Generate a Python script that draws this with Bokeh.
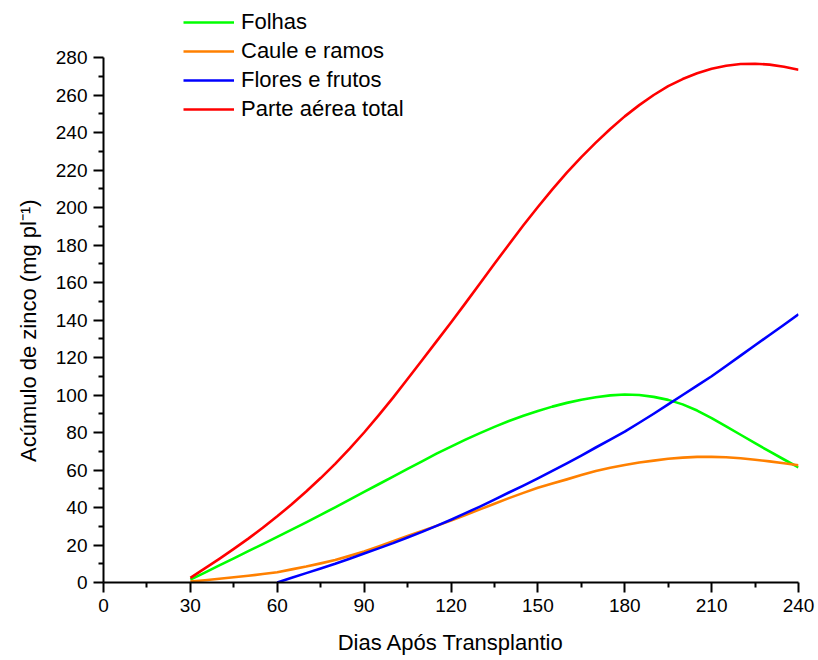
from bokeh.plotting import figure
from bokeh.models import Range1d, FixedTicker, Legend, LegendItem
from bokeh.embed import file_html
from bokeh.resources import INLINE

FONT = "Liberation Sans"

days = list(range(30, 241, 5))
days_flores = list(range(60, 241, 5))

folhas = [1.5, 5.3, 9.1, 12.9, 16.7, 20.5, 24.3, 28.2, 32.1, 36.1, 40.1, 44.2,
          48.3, 52.4, 56.5, 60.6, 64.6, 68.7, 72.5, 76.2, 79.7, 83, 86.1, 88.9,
          91.5, 93.8, 95.8, 97.5, 98.8, 99.8, 100.3, 100, 99, 97.4, 95, 91.7,
          87.7, 83.3, 78.8, 74.3, 69.9, 65.6, 61.4]
caule = [0.5, 1.2, 2, 2.8, 3.6, 4.5, 5.5, 7, 8.5, 10.2, 12, 14.2, 16.5, 19.2,
         22, 24.8, 27.5, 30.2, 33, 36, 39, 42, 45, 47.8, 50.5, 52.8, 55, 57.3,
         59.5, 61.2, 62.7, 64, 65, 66, 66.6, 67, 67, 66.8, 66.3, 65.5, 64.6,
         63.6, 62.5]
flores = [0, 2.5, 5, 7.5, 10, 12.7, 15.5, 18.2, 21, 24, 27, 30.2, 33.5, 37,
          40.5, 44.2, 48, 51.7, 55.5, 59.5, 63.5, 67.7, 72, 76.2, 80.5, 85.2,
          90, 95, 100, 105, 110, 115.5, 121, 126.5, 132, 137.5, 143]
total = [2.5, 7.5, 12.6, 17.9, 23.4, 29.2, 35.3, 41.7, 48.5, 55.7, 63.3, 71.4,
         80, 89.1, 98.6, 108.5, 118.5, 128.6, 138.7, 149, 159.5, 170, 180.3,
         190.5, 200.3, 209.7, 218.6, 226.9, 234.6, 241.9, 248.6, 254.6, 260,
         264.7, 268.5, 271.6, 274, 275.6, 276.5, 276.7, 276.2, 275.1, 273.5]

series_names = ["Folhas", "Caule e ramos", "Flores e frutos", "Parte aérea total"]
series_colors = ["#00ff00", "#ff8000", "#0000ff", "#ff0000"]

x_ticks = [0, 30, 60, 90, 120, 150, 180, 210, 240]
x_minor = [15, 45, 75, 105, 135, 165, 195, 225]
y_ticks = list(range(0, 281, 20))
y_minor = list(range(10, 280, 20))

# frame extends above the 280 tick so the legend can sit over the top margin;
# the axis itself is bounded to 0..280
Y_TOP = 280 * 577 / 525

p = figure(width=818, height=660, output_backend="svg", toolbar_location=None,
           x_range=Range1d(0, 240), y_range=Range1d(0, Y_TOP),
           min_border_left=103, min_border_right=20, min_border_top=5,
           min_border_bottom=78)
p.outline_line_color = None
p.xgrid.visible = False
p.ygrid.visible = False
p.background_fill_color = "white"
p.border_fill_color = "white"

renderers = []
for xs, ys, c in zip([days, days, days_flores, days],
                     [folhas, caule, flores, total], series_colors):
    r = p.line(xs, ys, line_color=c, line_width=2.6, line_join="round")
    renderers.append(r)

legend = Legend(items=[LegendItem(label=n, renderers=[r])
                       for n, r in zip(series_names, renderers)],
                location=(80, 460), padding=0, spacing=3,
                glyph_width=51, glyph_height=20, label_standoff=7,
                label_text_font=FONT, label_text_font_size="22px",
                label_text_color="black", border_line_color=None,
                background_fill_alpha=0)
p.add_layout(legend, "center")

for ax, ticks, minor, b in [(p.xaxis[0], x_ticks, x_minor, (0, 240)),
                            (p.yaxis[0], y_ticks, y_minor, (0, 280))]:
    ax.ticker = FixedTicker(ticks=ticks, minor_ticks=minor)
    ax.bounds = b
    ax.axis_line_width = 2
    ax.axis_line_color = "black"
    ax.major_tick_line_width = 2
    ax.minor_tick_line_width = 2
    ax.major_tick_line_color = "black"
    ax.minor_tick_line_color = "black"
    ax.major_tick_in = 0
    ax.major_tick_out = 10
    ax.minor_tick_in = 0
    ax.minor_tick_out = 5
    ax.major_label_text_font = FONT
    ax.major_label_text_font_size = "19px"
    ax.major_label_text_color = "black"
    ax.axis_label_text_font = FONT
    ax.axis_label_text_font_size = "22px"
    ax.axis_label_text_font_style = "normal"
    ax.axis_label_text_color = "black"
    ax.major_label_standoff = 6

p.xaxis[0].axis_label = "Dias Após Transplantio"
# trailing no-break spaces shift the centred label down to the 0..280 span
p.yaxis[0].axis_label = "Acúmulo de zinco (mg pl⁻¹)" + "\u00a0" * 12
p.xaxis[0].axis_label_standoff = 15
p.yaxis[0].axis_label_standoff = 12

open("out.html", "w").write(file_html(p, INLINE))
